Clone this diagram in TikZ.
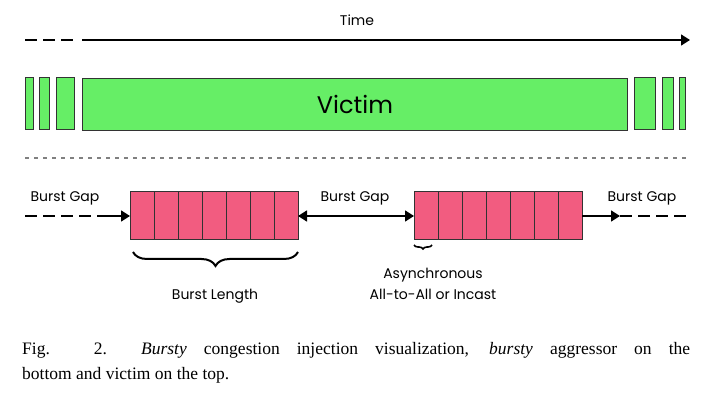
\documentclass[tikz,border=0pt]{standalone}
\usepackage{fontspec}
\setmainfont{Liberation Serif}
\newfontfamily\diafont{Poppins}
\usetikzlibrary{arrows.meta, positioning, decorations.pathreplacing}

\definecolor{victimgreen}{HTML}{66EE66}
\definecolor{burstpink}{HTML}{F25C80}

\tikzset{
  victimbox/.style={draw=black!80, fill=victimgreen, line width=1pt},
  burstcell/.style={draw=black!80, fill=burstpink, line width=1pt},
  lbl/.style={font=\diafont\fontsize{14}{16}\selectfont, inner sep=0pt},
  gapline/.style={line width=1.6pt},
  tip/.style={-{Triangle[length=9pt, width=11pt]}}
}

\begin{document}
\begin{tikzpicture}[x=1pt, y=-1pt]
    \useasboundingbox (0,0) rectangle (713,403);

    % time axis
    \node[lbl] (time) at (357,20) {Time};
    \coordinate (t0) at (25,40);
    \coordinate (t1) at (75,40);
    \coordinate (t2) at (82,40);
    \coordinate (t3) at (690,40);
    \draw[gapline, dash pattern=on 12pt off 6pt] (t0) -- (t1);
    \draw[gapline, tip] (t2) -- (t3);

    % victim
    \draw[victimbox] (25,78) rectangle (33,130);
    \draw[victimbox] (39,78) rectangle (49,130);
    \draw[victimbox] (56,78) rectangle (74,130);
    \node[victimbox, minimum width=545pt, minimum height=52pt, anchor=north west,
          font=\diafont\fontsize{24}{28}\selectfont] (victim) at (82,78) {Victim};
    \draw[victimbox] (634,78) rectangle (655,130);
    \draw[victimbox] (662,78) rectangle (673,130);
    \draw[victimbox] (679,78) rectangle (685,130);

    % separator
    \draw[black!50, line width=2pt, dash pattern=on 4pt off 5pt] (25,158) -- (690,158);

    % bursts
    \foreach \b/\x in {b1/130, b2/414} {
      \foreach \i in {0,...,6}
        \draw[burstcell] (\x+\i*24,192) rectangle (\x+\i*24+24,240);
      \coordinate (\b w) at (\x,216);
      \coordinate (\b e) at (\x+168,216);
    }

    % gaps
    \node[lbl] (gapl) at (65,198) {Burst Gap};
    \node[lbl] (gapm) at (355,198) {Burst Gap};
    \node[lbl] (gapr) at (642,198) {Burst Gap};
    \coordinate (l0) at (25,216);
    \coordinate (l1) at (100,216);
    \coordinate (r0) at (690,216);
    \coordinate (r1) at (620,216);
    \draw[gapline, dash pattern=on 12pt off 6pt] (l0) -- (l1);
    \draw[gapline, tip] (l1) -- (b1w);
    \draw[gapline, tip] (b2e) -- (r1);
    \draw[gapline, dash pattern=on 12pt off 6pt] (r1) -- (r0);
    \draw[gapline, {Triangle[length=9pt, width=11pt]}-{Triangle[length=9pt, width=11pt]}] (b1e) -- (b2w);

    % braces
    \draw[line width=2pt, decorate, decoration={brace, mirror, amplitude=14pt}]
      (133,252) -- (298,252);
    \node[lbl] (blen) at (215,296) {Burst Length};
    \draw[line width=1.6pt, decorate, decoration={brace, mirror, amplitude=4pt}]
      (414,245) -- (432,245);
    \node[lbl, align=center] (async) at (433,284) {Asynchronous\\[5pt]All-to-All or Incast};

    % caption
    \node[anchor=west, inner sep=0pt, font=\fontsize{17.5}{21}\selectfont] (cap1) at (22,350)
      {\makebox[668pt][s]{Fig. 2.\ \ \textit{Bursty} congestion injection visualization, \textit{bursty} aggressor on the}};
    \node[anchor=west, inner sep=0pt, font=\fontsize{17.5}{21}\selectfont] (cap2) at (22,375)
      {bottom and victim on the top.};
\end{tikzpicture}
\end{document}
